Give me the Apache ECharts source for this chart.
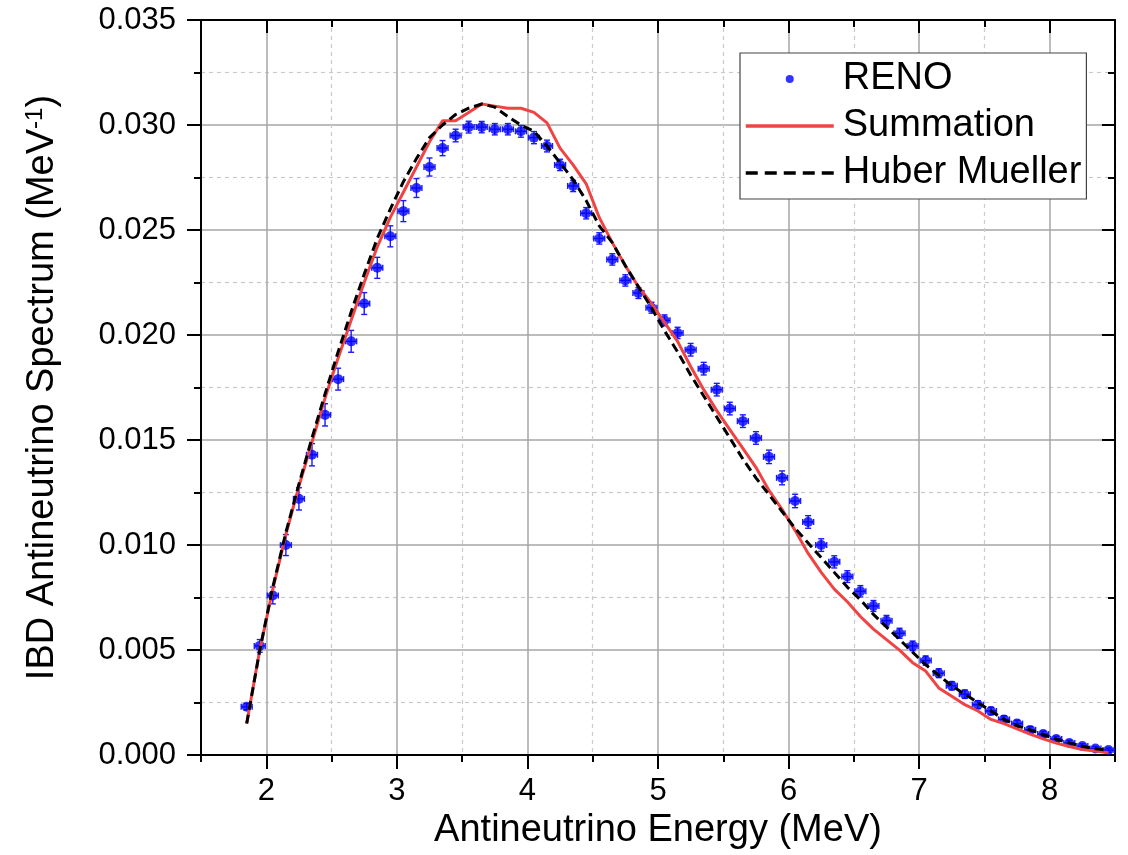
<!DOCTYPE html>
<html>
<head>
<meta charset="utf-8">
<script src="https://cdn.jsdelivr.net/npm/echarts@6/dist/echarts.min.js"></script>
<style>
html,body{margin:0;padding:0;background:#fff;}
#chart{width:1128px;height:855px;}
</style>
</head>
<body>
<div id="chart"></div>
<script>
// Antineutrino energy bin centres (MeV)
const energy = [1.85,1.95,2.05,2.15,2.25,2.35,2.45,2.55,2.65,2.75,2.85,2.95,3.05,3.15,3.25,3.35,3.45,3.55,3.65,3.75,3.85,3.95,4.05,4.15,4.25,4.35,4.45,4.55,4.65,4.75,4.85,4.95,5.05,5.15,5.25,5.35,5.45,5.55,5.65,5.75,5.85,5.95,6.05,6.15,6.25,6.35,6.45,6.55,6.65,6.75,6.85,6.95,7.05,7.15,7.25,7.35,7.45,7.55,7.65,7.75,7.85,7.95,8.05,8.15,8.25,8.35,8.45];

// RENO measured IBD spectrum (MeV^-1)
const reno = [0.0023,0.0052,0.0076,0.0100,0.0122,0.0143,0.0162,0.0179,0.0197,0.0215,0.0232,0.0247,0.0259,0.0270,0.0280,0.0289,0.0295,0.0299,0.0299,0.0298,0.0298,0.0297,0.0294,0.0290,0.0281,0.0271,0.0258,0.0246,0.0236,0.0226,0.0220,0.0213,0.0207,0.0201,0.0193,0.0184,0.0174,0.0165,0.0159,0.0151,0.0142,0.0132,0.0121,0.0111,0.0100,0.0092,0.0085,0.0078,0.0071,0.0064,0.0058,0.0052,0.0045,0.0039,0.0033,0.0029,0.0024,0.0021,0.0017,0.0015,0.0012,0.0010,0.00077,0.00058,0.00043,0.00031,0.00024];

// RENO vertical uncertainty (half width)
const renoErr = [0.00015,0.0003,0.0004,0.0005,0.00053,0.00053,0.00053,0.00052,0.00052,0.00052,0.0005,0.0005,0.0005,0.00045,0.00043,0.00036,0.0003,0.00028,0.00027,0.00027,0.00027,0.00028,0.00029,0.00028,0.00027,0.00027,0.00027,0.00027,0.00027,0.00027,0.00026,0.00026,0.00026,0.00027,0.0003,0.0003,0.0003,0.0003,0.0003,0.0003,0.00032,0.00033,0.00032,0.0003,0.0003,0.00029,0.00028,0.00027,0.00026,0.00025,0.00024,0.00023,0.00022,0.00021,0.0002,0.0002,0.00019,0.00018,0.00017,0.00016,0.00015,0.00014,0.00013,0.00012,0.00011,0.0001,0.0001];

// horizontal bar half width (MeV)
const renoXErr = 0.042;

// Summation prediction
const summation = [0.0015,0.0050,0.0079,0.0105,0.0128,0.0149,0.0170,0.0189,0.0207,0.0225,0.0242,0.0256,0.0268,0.0280,0.0292,0.0302,0.0302,0.0306,0.0310,0.0309,0.0308,0.0308,0.0306,0.0301,0.0289,0.0281,0.0272,0.0256,0.0244,0.0233,0.0223,0.0215,0.0206,0.0197,0.0185,0.0174,0.0164,0.0155,0.0146,0.0137,0.0126,0.0117,0.0107,0.0096,0.0087,0.0079,0.0073,0.0066,0.0060,0.0055,0.0050,0.0044,0.0040,0.0032,0.0028,0.0024,0.0021,0.0017,0.0015,0.00125,0.0010,0.00077,0.00057,0.00041,0.00027,0.00019,0.00011];

// Huber-Mueller prediction
const huberMueller = [0.0015,0.0050,0.0080,0.0106,0.0129,0.0151,0.0172,0.0192,0.0211,0.0229,0.0246,0.0260,0.0273,0.0284,0.0294,0.0300,0.0305,0.0308,0.0310,0.03085,0.0304,0.0300,0.0297,0.0290,0.0282,0.0274,0.0264,0.0252,0.0244,0.0233,0.0223,0.0213,0.0202,0.0192,0.0181,0.0171,0.0161,0.0151,0.0141,0.0132,0.0124,0.0116,0.0108,0.0101,0.0094,0.0087,0.0080,0.0074,0.0067,0.0061,0.0055,0.0049,0.0043,0.0038,0.0033,0.0029,0.0025,0.0021,0.0017,0.0014,0.0012,0.00097,0.00076,0.00058,0.00042,0.0003,0.00022];

// tick labels / positions
const xMajorTicks = [2,3,4,5,6,7,8];

const FONT = "'Liberation Sans', Arial, sans-serif";
const BLUE = '#0000ff';
const RED = '#f04444';

const chart = echarts.init(document.getElementById('chart'), null, {renderer:'canvas'});

const axisBlack = {color:'#000', width:2};

const option = {
  animation: false,
  backgroundColor: '#fff',
  grid: {left: 201, right: 13, top: 20, bottom: 98},
  legend: {
    orient: 'vertical', left: 740, top: 53,
    padding: [5, 5, 5, 4], itemGap: 5, itemWidth: 88, itemHeight: 8,
    borderColor: '#444', borderWidth: 1.2, backgroundColor: '#fff',
    textStyle: {fontSize: 38, fontFamily: FONT, color: '#000', lineHeight: 42, padding: [0,0,0,4]},
    data: [
      {name:'RENO', icon:'circle'},
      {name:'Summation', itemStyle:{opacity:0}, lineStyle:{width:3.5, color:RED}},
      {name:'Huber Mueller', itemStyle:{opacity:0}, lineStyle:{width:3.5, color:'#000', type:[12,7]}}
    ]
  },
  xAxis: [
    {
      type:'value', min:1.5, max:8.5, position:'bottom',
      axisLine:{show:true, onZero:false, lineStyle:axisBlack},
      axisTick:{show:true, inside:false, length:14, customValues:xMajorTicks, lineStyle:axisBlack},
      axisLabel:{show:true, customValues:xMajorTicks, margin:21, fontSize:31, fontFamily:FONT, color:'#000', formatter: v => String(v)},
      splitLine:{show:true, lineStyle:{color:'#a6a6a6', width:1.5, type:'solid'}},
      name:'Antineutrino Energy (MeV)', nameLocation:'middle', nameGap:55,
      nameTextStyle:{fontSize:38, fontFamily:FONT, color:'#000'}
    },
    {
      type:'value', min:1.5, max:8.5, interval:1, position:'bottom',
      axisLine:{show:false, onZero:false},
      axisTick:{show:true, inside:false, length:7, lineStyle:axisBlack},
      axisLabel:{show:false},
      splitLine:{show:true, lineStyle:{color:'#cacaca', width:1.2, type:[4,4]}}
    },
    {
      type:'value', min:1.5, max:8.5, position:'top',
      axisLine:{show:true, onZero:false, lineStyle:axisBlack},
      axisTick:{show:true, inside:true, length:13, customValues:xMajorTicks, lineStyle:axisBlack},
      axisLabel:{show:false},
      splitLine:{show:false}
    },
    {
      type:'value', min:1.5, max:8.5, interval:1, position:'top',
      axisLine:{show:false, onZero:false},
      axisTick:{show:true, inside:true, length:7, lineStyle:axisBlack},
      axisLabel:{show:false},
      splitLine:{show:false}
    }
  ],
  yAxis: [
    {
      type:'value', min:0, max:0.035, interval:0.005, position:'left',
      axisLine:{show:true, onZero:false, lineStyle:axisBlack},
      axisTick:{show:true, inside:false, length:14, lineStyle:axisBlack},
      minorTick:{show:true, splitNumber:2, length:7, lineStyle:axisBlack},
      axisLabel:{show:true, margin:25, fontSize:31, fontFamily:FONT, color:'#000', formatter: v => v.toFixed(3)},
      splitLine:{show:true, lineStyle:{color:'#a6a6a6', width:1.5, type:'solid'}},
      minorSplitLine:{show:true, lineStyle:{color:'#cacaca', width:1.2, type:[4,4]}},
      name:'{a|IBD Antineutrino Spectrum (MeV}{s|-1}{a|)}',
      nameLocation:'middle', nameGap:138, nameRotate:90,
      nameTextStyle:{
        color:'#000', fontFamily:FONT, fontSize:38,
        rich:{
          a:{fontSize:38, fontFamily:FONT, color:'#000', lineHeight:40},
          s:{fontSize:24, fontFamily:FONT, color:'#000', verticalAlign:'top', lineHeight:40}
        }
      }
    },
    {
      type:'value', min:0, max:0.035, interval:0.005, position:'right',
      axisLine:{show:true, onZero:false, lineStyle:axisBlack},
      axisTick:{show:true, inside:true, length:13, lineStyle:axisBlack},
      minorTick:{show:true, splitNumber:2, length:7, lineStyle:axisBlack},
      axisLabel:{show:false},
      splitLine:{show:false}
    }
  ],
  series: [
    {
      name:'RENO err', type:'custom', xAxisIndex:0, yAxisIndex:0, z:3,
      data: energy.map((x,i) => [x, reno[i], renoErr[i]]),
      renderItem: function(params, api){
        const x = api.value(0), y = api.value(1), e = api.value(2);
        const top = api.coord([x, y + e]);
        const bot = api.coord([x, y - e]);
        const lft = api.coord([x - renoXErr, y]);
        const rgt = api.coord([x + renoXErr, y]);
        const st = {stroke:'#1a1aff', lineWidth:1.4};
        const c = 3;
        return {type:'group', children:[
          {type:'line', shape:{x1:top[0], y1:top[1], x2:bot[0], y2:bot[1]}, style:st},
          {type:'line', shape:{x1:top[0]-c, y1:top[1], x2:top[0]+c, y2:top[1]}, style:st},
          {type:'line', shape:{x1:bot[0]-c, y1:bot[1], x2:bot[0]+c, y2:bot[1]}, style:st},
          {type:'line', shape:{x1:lft[0], y1:lft[1], x2:rgt[0], y2:rgt[1]}, style:st},
          {type:'line', shape:{x1:lft[0], y1:lft[1]-c, x2:lft[0], y2:lft[1]+c}, style:st},
          {type:'line', shape:{x1:rgt[0], y1:rgt[1]-c, x2:rgt[0], y2:rgt[1]+c}, style:st}
        ]};
      }
    },
    {
      name:'RENO', type:'scatter', xAxisIndex:0, yAxisIndex:0, z:4,
      symbol:'circle', symbolSize:10,
      itemStyle:{color:BLUE},
      data: energy.map((x,i) => [x, reno[i]])
    },
    {
      name:'Summation', type:'line', xAxisIndex:0, yAxisIndex:0, z:5,
      symbol:'none', showSymbol:false,
      lineStyle:{color:RED, width:3, type:'solid'},
      itemStyle:{color:RED},
      data: energy.map((x,i) => [x, summation[i]])
    },
    {
      name:'Huber Mueller', type:'line', xAxisIndex:0, yAxisIndex:0, z:6,
      symbol:'none', showSymbol:false,
      lineStyle:{color:'#000', width:3, type:[9,5]},
      itemStyle:{color:'#000'},
      data: energy.map((x,i) => [x, huberMueller[i]])
    }
  ]
};
chart.setOption(option);
</script>
</body>
</html>
